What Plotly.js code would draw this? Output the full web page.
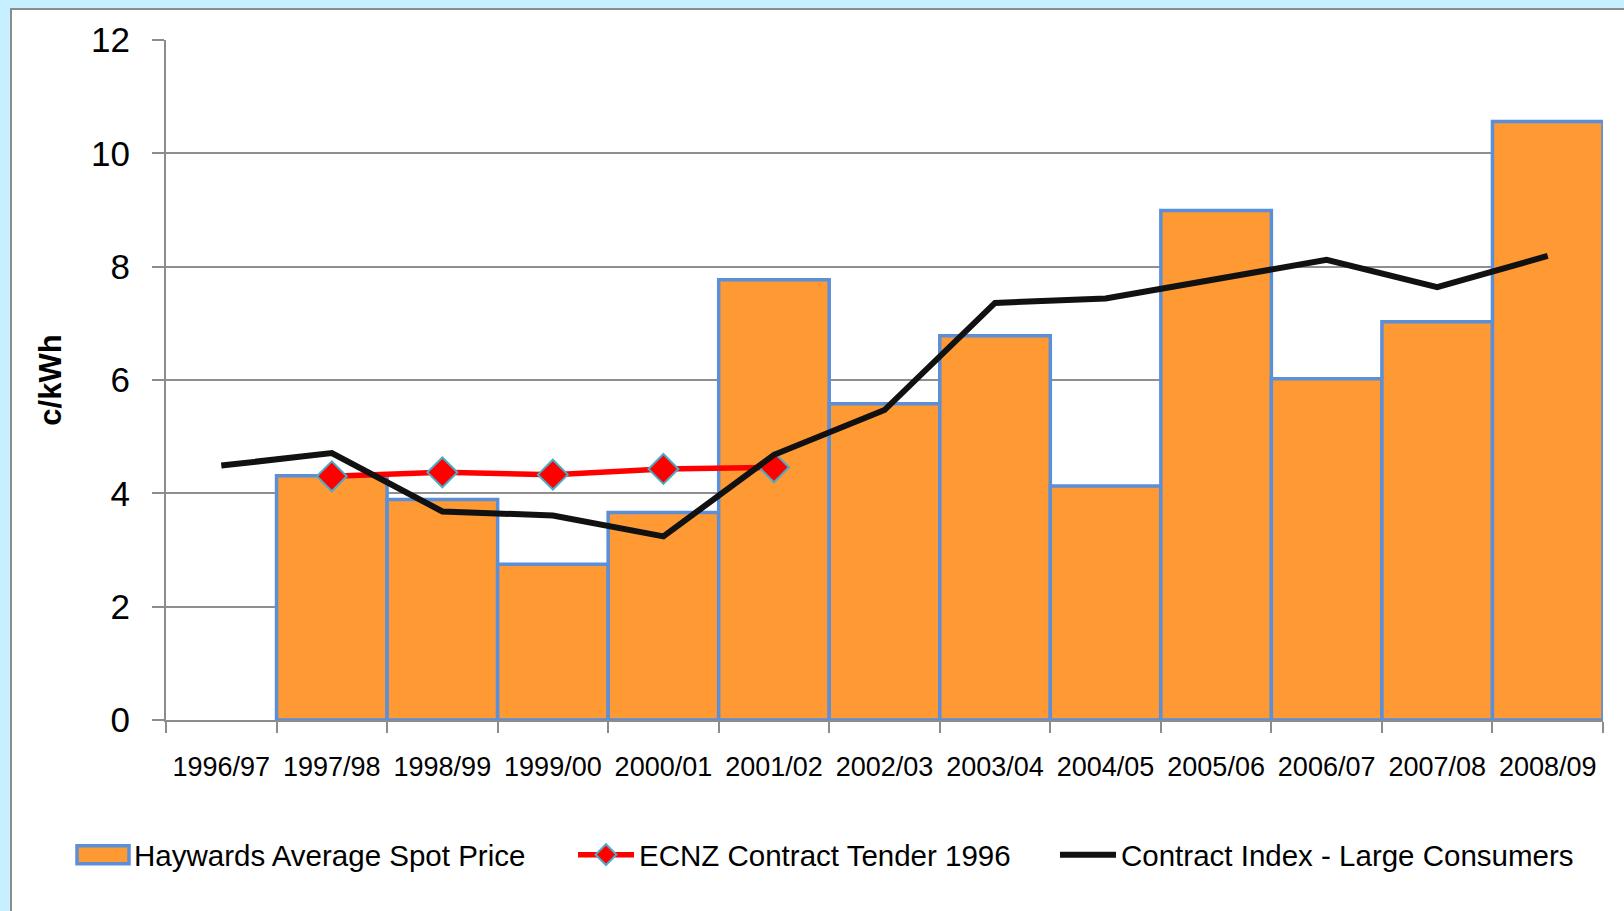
<!DOCTYPE html>
<html>
<head>
<meta charset="utf-8">
<script src="https://cdn.plot.ly/plotly-3.0.1.min.js"></script>
<style>
  html, body { margin: 0; padding: 0; width: 1624px; height: 911px; overflow: hidden; background: #C6EFFF; }
  #panel { position: absolute; left: 10px; top: 8px; width: 1700px; height: 1000px; background: #ffffff; border: 2px solid #8C8C8C; }
  #chart { position: absolute; left: 0; top: 0; width: 1624px; height: 911px; }
</style>
</head>
<body>
<div id="panel"></div>
<div id="chart"></div>
<script>
// ---- data ----
const years = ["1996/97","1997/98","1998/99","1999/00","2000/01","2001/02","2002/03","2003/04","2004/05","2005/06","2006/07","2007/08","2008/09"];
const spotPrice = [null, 4.31, 3.89, 2.75, 3.66, 7.77, 5.58, 6.78, 4.13, 8.99, 6.02, 7.03, 10.56];
const tenderYears = ["1997/98","1998/99","1999/00","2000/01","2001/02"];
const tenderPrice = [4.30, 4.37, 4.33, 4.43, 4.46];
const contractIndex = [4.49, 4.71, 3.68, 3.61, 3.24, 4.68, 5.47, 7.36, 7.44, 7.77, 8.12, 7.64, 8.19];
const yTicks = [0, 2, 4, 6, 8, 10, 12];

const FONT = '"Liberation Sans", Arial, sans-serif';

const traces = [
  {
    type: 'bar', name: 'Haywards Average Spot Price',
    x: years, y: spotPrice,
    marker: { color: '#FF9933', line: { color: '#5B8FD8', width: 3.5 } },
    legend: 'legend', hoverinfo: 'x+y'
  },
  {
    type: 'scatter', mode: 'lines+markers', name: 'ECNZ Contract Tender 1996',
    x: tenderYears, y: tenderPrice,
    line: { color: '#FF0000', width: 5.5 },
    marker: { symbol: 'diamond', size: 23, color: '#FF0000', line: { color: '#4BACC6', width: 2 } },
    legend: 'legend2'
  },
  {
    type: 'scatter', mode: 'lines', name: 'Contract Index - Large Consumers',
    x: years, y: contractIndex,
    line: { color: '#111111', width: 6 },
    legend: 'legend3'
  }
];

const legendCommon = {
  orientation: 'h', yanchor: 'middle', xanchor: 'left', y: -0.1985,
  bgcolor: 'rgba(0,0,0,0)', itemwidth: 56,
  font: { family: FONT, size: 29.5, color: '#000000' }
};

const layout = {
  width: 1624, height: 911,
  margin: { l: 166, r: 21, t: 40, b: 191 },
  paper_bgcolor: 'rgba(0,0,0,0)',
  plot_bgcolor: 'rgba(0,0,0,0)',
  bargap: 0,
  showlegend: true,
  font: { family: FONT, color: '#000000' },
  xaxis: {
    type: 'category', categoryorder: 'array', categoryarray: years,
    range: [-0.5, 12.5],
    showgrid: false, showline: true, linecolor: '#8C8C8C', linewidth: 2,
    ticks: 'outside', tickson: 'boundaries', ticklen: 11, tickcolor: '#8C8C8C', tickwidth: 2,
    tickfont: { family: FONT, size: 27, color: '#000000' },
    ticklabelstandoff: 22,
    zeroline: false, fixedrange: true
  },
  yaxis: {
    range: [0, 12], tickvals: yTicks, ticktext: yTicks.map(String),
    showgrid: true, gridcolor: '#8F8F8F', gridwidth: 2,
    showline: true, linecolor: '#8C8C8C', linewidth: 2,
    ticks: 'outside', ticklen: 12, tickcolor: '#8C8C8C', tickwidth: 2,
    tickfont: { family: FONT, size: 35, color: '#000000' },
    ticklabelstandoff: 15,
    zeroline: false, fixedrange: true,
    title: { text: 'c/kWh', font: { family: FONT, size: 31, color: '#000000', weight: 'bold' }, standoff: 20 }
  },
  legend: Object.assign({}, legendCommon, { x: (68 - 166) / 1437 }),
  legend2: Object.assign({}, legendCommon, { x: (573 - 166) / 1437 }),
  legend3: Object.assign({}, legendCommon, { x: (1055 - 166) / 1437 })
};

Plotly.newPlot('chart', traces, layout, { displayModeBar: false, staticPlot: true }).then(function (gd) {
  // widen the bar legend swatch to the wide rectangle style of the reference
  gd.querySelectorAll('.legend .legendpoints path').forEach(function (p) {
    const g = p.closest('g.traces');
    if (g && g.textContent.indexOf('Haywards') >= 0 && (p.getAttribute('d') || '').indexOf('M6,6') === 0) {
      p.setAttribute('d', 'M28,9H-24V-9H28Z');
      p.style.strokeWidth = '3.5px';
    }
  });
});
</script>
</body>
</html>
